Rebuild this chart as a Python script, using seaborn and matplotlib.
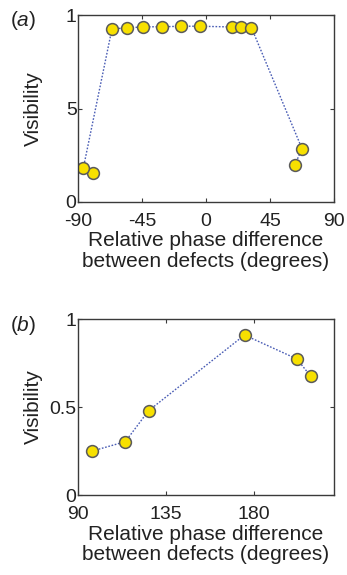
import pandas as pd
import matplotlib
matplotlib.use("Agg")
import matplotlib.pyplot as plt
import seaborn as sns

# ==========================================
# DATA
# ==========================================
# panel (a): points kept in drawing order (line is not sorted by x)
phase_a = [-79.7, -86.3, -66.1, -55.8, -44.5, -30.9, -17.6, -4.2, 18.1, 24.8, 31.9, 67.5, 62.4]
vis_a = [0.155, 0.180, 0.927, 0.930, 0.937, 0.937, 0.940, 0.940, 0.936, 0.935, 0.933, 0.285, 0.198]

# panel (b)
phase_b = [97.3, 114.2, 126.1, 175.2, 202.0, 209.0]
vis_b = [0.250, 0.303, 0.479, 0.909, 0.773, 0.676]

xticks_a = [-90, -45, 0, 45, 90]
xticks_b = [90, 135, 180]
yticks = [0, 0.5, 1]
ylabels_a = ["0", "5", "1"]
ylabels_b = ["0", "0.5", "1"]

XLABEL = "Relative phase difference\nbetween defects (degrees)"

# ==========================================
# STYLE
# ==========================================
sns.set_theme(style="ticks")
plt.rcParams["font.family"] = ["Liberation Sans", "DejaVu Sans"]
plt.rcParams["mathtext.fontset"] = "custom"
plt.rcParams["mathtext.it"] = "Liberation Sans:italic"
plt.rcParams["mathtext.rm"] = "Liberation Sans"
plt.rcParams["xtick.direction"] = "in"
plt.rcParams["ytick.direction"] = "in"

LINE_COLOR = "#4a5db5"
FACE = "#f7e000"
EDGE = "#5a5a5a"
SPINE = "#3a3a3a"
TEXT = "#222222"

df_a = pd.DataFrame({"phase": phase_a, "vis": vis_a})
df_b = pd.DataFrame({"phase": phase_b, "vis": vis_b})

fig = plt.figure(figsize=(3.47, 5.75), dpi=100)
ax_a = fig.add_axes([0.2248, 0.6487, 0.7378, 0.3252])
ax_b = fig.add_axes([0.2248, 0.1391, 0.7378, 0.3061])


def draw_panel(ax, df, xlim, xticks, ylabels, tag):
    sns.lineplot(data=df, x="phase", y="vis", sort=False, ax=ax,
                 color=LINE_COLOR, linestyle=(0, (1.2, 1.2)), linewidth=1.0,
                 marker="o", markersize=8.5, markerfacecolor=FACE,
                 markeredgecolor=EDGE, markeredgewidth=1.1)
    ax.set_xlim(*xlim)
    ax.set_ylim(0, 1)
    ax.set_xticks(xticks)
    ax.set_xticklabels([str(t) for t in xticks])
    ax.set_yticks(yticks)
    ax.set_yticklabels(ylabels)
    ax.tick_params(axis="both", which="both", top=True, right=True,
                   length=3, width=0.8, color=SPINE, labelsize=14,
                   labelcolor=TEXT)
    ax.tick_params(axis="x", pad=8)
    ax.tick_params(axis="y", pad=1)
    for sp in ax.spines.values():
        sp.set_visible(True)
        sp.set_color(SPINE)
        sp.set_linewidth(1.0)
    ax.set_xlabel(XLABEL, fontsize=15, color=TEXT, labelpad=1, linespacing=1.1)
    ax.set_ylabel("Visibility", fontsize=15, color=TEXT)
    ax.yaxis.set_label_coords(-0.137, 0.5)
    ax.text(-0.265, 1.03, r"($\mathit{" + tag + r"}$)", transform=ax.transAxes,
            fontsize=15, ha="left", va="top", color=TEXT)


draw_panel(ax_a, df_a, (-90, 90), xticks_a, ylabels_a, "a")
draw_panel(ax_b, df_b, (90, 221), xticks_b, ylabels_b, "b")

fig.savefig("out.png", dpi=100, facecolor="white")
